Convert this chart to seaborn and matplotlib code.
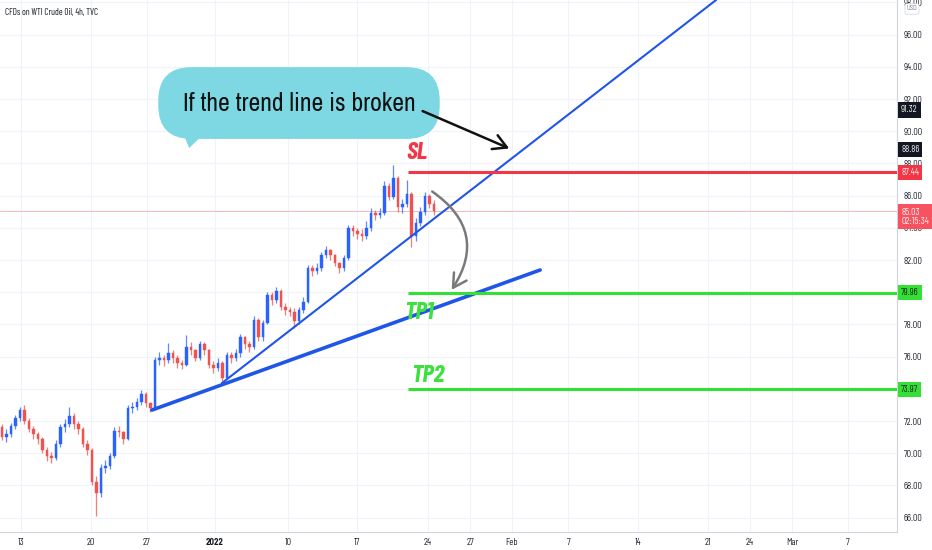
import matplotlib
matplotlib.use("Agg")
import matplotlib.pyplot as plt
from matplotlib.patches import Polygon
import seaborn as sns

# 4h candles, CFDs on WTI crude oil
closes = [71.0, 71.2, 71.7, 72.2, 72.7, 72.0, 71.5, 71.2, 70.9, 70.2,
          69.8, 69.7, 70.6, 71.6, 71.8, 72.3, 71.8, 71.5, 70.6, 70.2,
          68.2, 67.5, 69.1, 69.2, 69.8, 71.4, 71.3, 70.9, 72.8, 72.9,
          73.2, 73.7, 73.1, 72.8, 75.8, 75.9, 75.8, 76.2, 75.9, 75.6,
          75.5, 76.6, 76.4, 75.9, 76.8, 76.4, 75.5, 75.3, 75.6, 74.7,
          76.1, 75.9, 76.2, 77.2, 76.8, 76.6, 78.3, 77.2, 78.1, 79.8,
          79.5, 80.1, 79.1, 78.9, 78.8, 78.2, 78.9, 79.4, 81.5, 81.3,
          81.5, 82.3, 82.6, 82.3, 81.8, 81.5, 82.1, 84.0, 83.8, 83.6,
          83.5, 84.0, 84.9, 84.8, 84.9, 86.6, 85.9, 87.1, 85.3, 85.5,
          86.1, 83.5, 84.3, 85.0, 86.0, 85.5, 85.03]
highs = [71.8, 71.5, 71.9, 72.4, 72.9, 73.0, 72.2, 71.7, 71.3, 71.0,
         70.4, 70.1, 70.8, 71.8, 72.1, 72.9, 72.5, 72.0, 71.6, 70.8,
         70.3, 68.6, 69.3, 69.6, 70.0, 71.6, 71.7, 71.4, 73.0, 73.2,
         73.4, 73.9, 73.8, 73.2, 76.0, 76.3, 76.1, 76.85, 76.4, 76.1,
         75.8, 77.35, 76.9, 76.5, 77.0, 76.9, 76.5, 75.7, 75.9, 75.7,
         76.3, 76.3, 76.5, 77.4, 77.3, 77.0, 78.5, 78.4, 78.3, 80.0,
         80.0, 80.3, 80.2, 79.3, 79.1, 79.0, 79.1, 79.7, 81.7, 81.7,
         81.8, 82.5, 82.9, 82.7, 82.4, 81.9, 82.3, 84.2, 84.2, 84.0,
         83.9, 84.4, 85.2, 85.1, 85.2, 86.9, 86.8, 87.9, 87.2, 85.8,
         87.0, 86.2, 84.6, 85.3, 86.2, 86.1, 85.7]
lows = [70.8, 70.7, 71.0, 71.5, 72.0, 71.8, 71.3, 70.9, 70.6, 70.0,
        69.5, 69.4, 69.6, 70.4, 71.3, 71.6, 71.5, 71.2, 70.4, 69.9,
        68.0, 66.1, 67.3, 68.8, 69.0, 69.7, 71.0, 70.6, 70.8, 72.5,
        72.7, 73.0, 72.9, 72.55, 72.7, 75.5, 75.4, 75.6, 75.6, 75.3,
        75.2, 75.4, 76.1, 75.7, 75.8, 76.1, 75.3, 75.0, 75.1, 74.5,
        74.6, 75.6, 75.7, 76.0, 76.5, 76.3, 76.5, 77.0, 77.0, 78.0,
        79.2, 79.3, 78.9, 78.6, 78.5, 77.8, 78.0, 78.7, 79.3, 81.0,
        81.1, 81.3, 82.1, 82.0, 81.6, 81.2, 81.3, 82.0, 83.5, 83.3,
        83.2, 83.3, 83.8, 84.5, 84.6, 84.8, 85.7, 85.8, 85.0, 84.9,
        85.3, 82.8, 83.2, 84.1, 84.8, 85.2, 84.8]
first_open = 71.6
opens = [first_open] + closes[:-1]

price_ticks = list(range(66, 100, 2))
hidden_ticks = [74, 80]  # covered by the TP tags on the scale
date_labels = ["13", "20", "27", "2022", "10", "17", "24", "27", "Feb",
               "7", "14", "21", "24", "Mar", "7"]
date_pos = [4.2, 19.8, 32.2, 47.3, 63.6, 78.9, 94.7, 104.0, 113.3,
            125.8, 141.3, 156.9, 166.2, 175.6, 188.0]

stop_loss = 87.44
tp1 = 79.96
tp2 = 73.97
last_price = 85.03
countdown = "02:15:34"
arrow_from = 91.32
arrow_to = 88.86

# trend lines (candle index, price)
steep_line = ([48.9, 158.7], [74.36, 98.15])
flat_line = ([33.3, 119.6], [72.68, 81.38])

sns.set_theme(style="white")
plt.rcParams["font.family"] = ["Barlow Semi Condensed", "DejaVu Sans"]
narrow_font = ["Barlow Condensed", "DejaVu Sans"]
bubble_font = ["Ubuntu Condensed", "Archivo Narrow", "DejaVu Sans"]

up_col = "#2962ff"
down_col = "#ef5350"
grid_col = "#f0f3fa"
txt_col = "#131722"

fig = plt.figure(figsize=(9.32, 5.5), dpi=100)
ax = fig.add_axes([0, 18 / 550, 897 / 932, 532 / 550])

x = list(range(len(closes)))
body_bottom = [min(o, c) for o, c in zip(opens, closes)]
body_height = [max(abs(c - o), 0.06) for o, c in zip(opens, closes)]
cols = [up_col if c >= o else down_col for o, c in zip(opens, closes)]

ax.vlines(x, lows, highs, colors=cols, lw=0.9, alpha=0.75, zorder=3)
ax.bar(x, body_height, bottom=body_bottom, width=0.6, color=cols,
       edgecolor=cols, lw=0.3, zorder=4)

# current price line
ax.axhline(last_price, color="#f9b3ba", lw=0.7, zorder=1)

# trend lines
sns.lineplot(x=steep_line[0], y=steep_line[1], ax=ax, color="#1f55e8",
             lw=1.5, zorder=5)
sns.lineplot(x=flat_line[0], y=flat_line[1], ax=ax, color="#1f55e8",
             lw=2.6, zorder=5)

# SL / TP levels
ax.hlines(stop_loss, 90.2, 200, color="#f23645", lw=2.2, zorder=6)
ax.hlines([tp1, tp2], 90.2, 200, color="#33e033", lw=2.2, zorder=6)
lvl_font = dict(fontsize=18, fontweight="bold", style="italic",
                family=narrow_font, ha="left", va="center", zorder=7)
ax.text(89.9, 88.65, "SL", color="#f23645", **lvl_font)
ax.text(89.4, 78.7, "TP1", color="#3ee03e", **lvl_font)
ax.text(90.9, 74.8, "TP2", color="#3ee03e", **lvl_font)

# callout bubble
bubble_col = "#7dd8e4"
ax.text(66.0, 91.75, "If the trend line is broken", fontsize=18.5,
        family=bubble_font, color="#111111", ha="center", va="center",
        zorder=9,
        bbox=dict(boxstyle="round,pad=0.95,rounding_size=1.3",
                  fc=bubble_col, ec="none"))
ax.add_patch(Polygon([[40.2, 89.9], [41.6, 88.95], [45.1, 89.9]],
                     closed=True, fc=bubble_col, ec="none", zorder=8))

ax.annotate("", xy=(113.3, arrow_to), xytext=(92.9, arrow_from),
            arrowprops=dict(arrowstyle="->,head_length=0.8,head_width=0.45",
                            color="#111111", lw=1.8), zorder=10)
ax.annotate("", xy=(99.6, 80.0), xytext=(95.1, 86.35),
            arrowprops=dict(arrowstyle="->,head_length=0.8,head_width=0.45",
                            color="#7a7a7a", lw=1.8,
                            connectionstyle="arc3,rad=-0.5"), zorder=10)

# axes
ax.set_xlim(-0.444, 198.9)
ax.set_ylim(65.106, 98.149)
ax.yaxis.tick_right()
ax.set_yticks(price_ticks)
ax.set_yticklabels(["" if p in hidden_ticks else f"{p:.2f}"
                    for p in price_ticks])
ax.set_xticks(date_pos)
ax.set_xticklabels(date_labels)
ax.tick_params(axis="both", length=0, labelsize=6.3, colors=txt_col)
ax.tick_params(axis="y", pad=4.5)
ax.tick_params(axis="x", pad=4)
for lab in ax.get_xticklabels():
    if lab.get_text() == "2022":
        lab.set_fontweight("bold")
ax.grid(True, color=grid_col, lw=0.8)
for side in ["left", "top"]:
    ax.spines[side].set_visible(False)
for side in ["right", "bottom"]:
    ax.spines[side].set_color("#d1d4dc")
    ax.spines[side].set_linewidth(0.8)

# price tags on the scale
yt = ax.get_yaxis_transform()
tags = [(arrow_from, f"{arrow_from:.2f}", "#131722", "white"),
        (arrow_to, f"{arrow_to:.2f}", "#131722", "white"),
        (stop_loss, f"{stop_loss:.2f}", "#f23645", "white"),
        (tp1, f"{tp1:.2f}", "#33e033", "#131722"),
        (tp2, f"{tp2:.2f}", "#33e033", "#131722")]
for val, lab, bg, fg in tags:
    ax.text(1.0 + 4 / 897, val, lab, transform=yt, ha="left", va="center",
            fontsize=6.3, color=fg, clip_on=False, zorder=12,
            bbox=dict(boxstyle="square,pad=0.35", fc=bg, ec="none"))
ax.text(1.0 + 4 / 897, last_price - 0.35, f"{last_price:.2f}\n{countdown}",
        transform=yt, ha="left", va="center", fontsize=6.3, color="white",
        linespacing=1.1, clip_on=False, zorder=12,
        bbox=dict(boxstyle="square,pad=0.35", fc="#f7525f", ec="none"))

fig.text(912 / 932, 1 - 9 / 550, "USD", fontsize=4.8, color="#787b86",
         ha="center", va="center",
         bbox=dict(boxstyle="round,pad=0.25", fc="white", ec="#d1d4dc", lw=0.5))
fig.text(5 / 932, 1 - 13 / 550, "CFDs on WTI Crude Oil, 4h, TVC",
         fontsize=6.5, family=narrow_font, color=txt_col, ha="left",
         va="center")

fig.savefig("out.png", dpi=100)
